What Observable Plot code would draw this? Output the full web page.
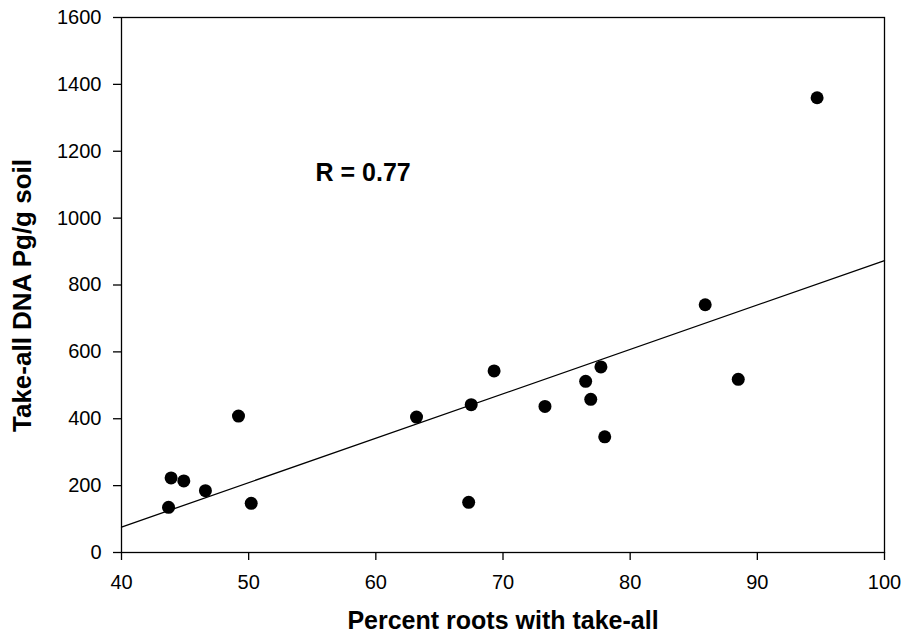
<!DOCTYPE html>
<html><head><meta charset="utf-8">
<script src="https://cdn.jsdelivr.net/npm/d3@7"></script>
<script src="https://cdn.jsdelivr.net/npm/@observablehq/plot@0.6"></script>
<style>body{margin:0;background:#fff}</style>
</head><body><div id="chart"></div>
<script>
const percentRoots = [43.7, 43.9, 44.9, 46.6, 49.2, 50.2, 63.2, 67.3, 67.5, 69.3, 73.3, 76.5, 76.9, 77.7, 78.0, 85.9, 88.5, 94.7];
const dnaPg        = [135, 223, 214, 185, 408, 147, 405, 150, 442, 543, 437, 512, 458, 555, 346, 741, 518, 1360];
const fitX = [40, 100];
const fitY = [76, 873];
const xTicks = [40, 50, 60, 70, 80, 90, 100];
const yTicks = [0, 200, 400, 600, 800, 1000, 1200, 1400, 1600];
const xTitle = "Percent roots with take-all";
const yTitle = "Take-all DNA Pg/g soil";
const rLabel = "R = 0.77";

const points = percentRoots.map((x, i) => ({x, y: dnaPg[i]}));
const fit = fitX.map((x, i) => ({x, y: fitY[i]}));

const chart = Plot.plot({
  width: 902,
  height: 640,
  marginLeft: 121,
  marginRight: 18,
  marginTop: 17,
  marginBottom: 88,
  x: {domain: [40, 100]},
  y: {domain: [0, 1600]},
  style: {fontFamily: "'Liberation Sans', Arial, sans-serif", fontSize: "20px", color: "black", background: "white"},
  marks: [
    Plot.frame({stroke: "black", strokeWidth: 1.3}),
    Plot.axisX(xTicks, {tickSize: 8, tickPadding: 14, label: null, fontSize: 20, strokeWidth: 1.3, tickFormat: d => String(d)}),
    Plot.axisY(yTicks, {tickSize: 8, tickPadding: 12, label: null, fontSize: 20, strokeWidth: 1.3, tickFormat: d => String(d)}),
    Plot.line(fit, {x: "x", y: "y", stroke: "black", strokeWidth: 1.3}),
    Plot.dot(points, {x: "x", y: "y", r: 6.5, fill: "black", stroke: null}),
    Plot.text([rLabel], {x: 59, y: 1136, text: d => d, fontSize: 25, fontWeight: "bold", textAnchor: "middle"}),
    Plot.text([xTitle], {frameAnchor: "bottom", dy: 76, text: d => d, fontSize: 25, fontWeight: "bold", textAnchor: "middle"}),
    Plot.text([yTitle], {frameAnchor: "left", dx: -99, dy: 10.5, rotate: -90, text: d => d, fontSize: 26, fontWeight: "bold", textAnchor: "middle"})
  ]
});
document.getElementById("chart").appendChild(chart);
</script>
</body></html>
